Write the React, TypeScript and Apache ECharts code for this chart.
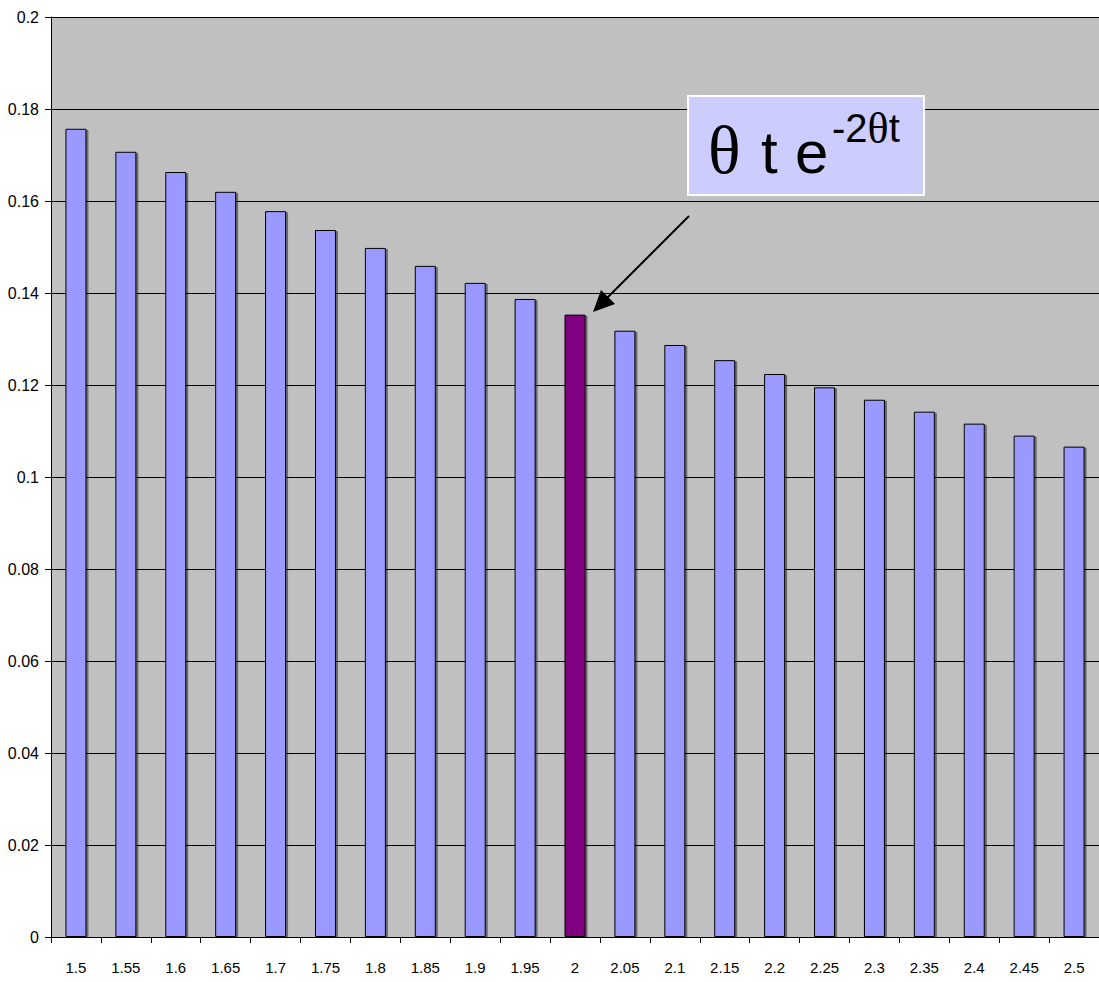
import React, { useEffect, useRef } from "react";
import * as echarts from "echarts";

const categories = ["1.5","1.55","1.6","1.65","1.7","1.75","1.8","1.85","1.9","1.95","2","2.05","2.1","2.15","2.2","2.25","2.3","2.35","2.4","2.45","2.5"];
const values = [0.1757,0.1707,0.1663,0.1620,0.1578,0.1537,0.1498,0.1459,0.1422,0.1387,0.1353,0.1318,0.1287,0.1254,0.1224,0.1195,0.1168,0.1142,0.1116,0.1090,0.1066];
const highlightCategory = "2";

const FONT = "'Liberation Sans', Arial, sans-serif";
const SERIF = "'Liberation Serif', 'Times New Roman', serif";

export default function App() {
  const ref = useRef<HTMLDivElement>(null);
  useEffect(() => {
    if (!ref.current) return;
    const chart = echarts.init(ref.current, null, { renderer: "svg" });
    const data = values.map((v, i) =>
      categories[i] === highlightCategory
        ? { value: v, itemStyle: { color: "#800080" } }
        : v
    );
    chart.setOption({
      animation: false,
      backgroundColor: "#ffffff",
      grid: {
        left: 51,
        top: 17,
        width: 1054,
        height: 920,
        show: true,
        backgroundColor: "#C0C0C0",
        borderWidth: 0,
      },
      xAxis: {
        type: "category",
        data: categories,
        axisLine: { show: true, lineStyle: { color: "#000", width: 1 } },
        axisTick: { show: true, length: 6, alignWithLabel: false, lineStyle: { color: "#000" } },
        axisLabel: { color: "#000", fontSize: 15, fontFamily: FONT, margin: 23, interval: 0 },
        splitLine: { show: false },
      },
      yAxis: {
        type: "value",
        min: 0,
        max: 0.2,
        interval: 0.02,
        axisLine: { show: true, lineStyle: { color: "#000", width: 1 } },
        axisTick: { show: true, length: 6, lineStyle: { color: "#000" } },
        axisLabel: { color: "#000", fontSize: 16, fontFamily: FONT, margin: 12 },
        splitLine: { show: true, lineStyle: { color: "#000", width: 1 } },
      },
      series: [
        {
          type: "bar",
          data,
          barWidth: 21,
          itemStyle: {
            color: "#9999FF",
            borderColor: "#000",
            borderWidth: 1,
            shadowColor: "rgba(0,0,0,0.45)",
            shadowOffsetX: 2,
            shadowOffsetY: 1,
            shadowBlur: 0,
          },
        },
      ],
      graphic: [
        {
          type: "rect",
          shape: { x: 688, y: 96, width: 236, height: 99 },
          style: { fill: "#CCCCFF", stroke: "#ffffff", lineWidth: 2 },
          z: 10,
        },
        {
          type: "text",
          x: 708,
          y: 150,
          style: {
            text: "θ",
            fill: "#000",
            font: "68px " + SERIF,
            verticalAlign: "middle",
          },
          z: 11,
        },
        {
          type: "text",
          x: 761,
          y: 152,
          style: {
            text: "t",
            fill: "#000",
            font: "60px " + FONT,
            verticalAlign: "middle",
          },
          z: 11,
        },
        {
          type: "text",
          x: 795,
          y: 152,
          style: {
            text: "e",
            fill: "#000",
            font: "60px " + FONT,
            verticalAlign: "middle",
          },
          z: 11,
        },
        {
          type: "text",
          x: 832,
          y: 128,
          style: {
            text: "{s|-2}{th|θ}{s|t}",
            fill: "#000",
            verticalAlign: "middle",
            rich: {
              s: { fontSize: 40, fontFamily: FONT, fill: "#000" },
              th: { fontSize: 44, fontFamily: SERIF, fill: "#000" },
            },
          },
          z: 11,
        },
        {
          type: "line",
          shape: { x1: 689, y1: 216, x2: 603, y2: 302 },
          style: { stroke: "#000", lineWidth: 2 },
          z: 10,
        },
        {
          type: "polygon",
          shape: { points: [[593, 312], [601, 290], [615, 304]] },
          style: { fill: "#000" },
          z: 10,
        },
      ],
    });
    return () => chart.dispose();
  }, []);
  return (
    <div
      ref={ref}
      style={{ position: "fixed", left: 0, top: 0, width: 1099, height: 982 }}
    />
  );
}
